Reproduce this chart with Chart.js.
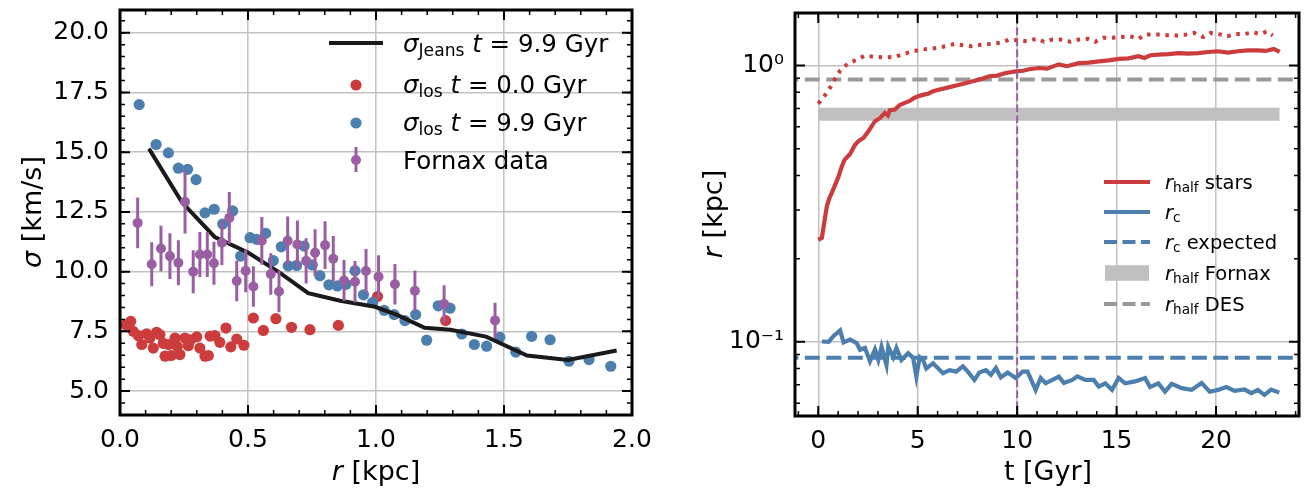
<!DOCTYPE html>
<html>
<head>
<meta charset="utf-8">
<script src="https://cdn.jsdelivr.net/npm/chart.js@4.4.1/dist/chart.umd.min.js"></script>
<style>
  html, body { margin: 0; padding: 0; background: #fff; }
  #wrap { position: relative; width: 1308px; height: 494px; }
  canvas { position: absolute; top: 0; }
  #left { left: 0; }
  #right { left: 660px; }
</style>
</head>
<body>
<div id="wrap">
  <canvas id="left" width="660" height="494"></canvas>
  <canvas id="right" width="648" height="494"></canvas>
</div>
<script>
// ---- left panel: velocity dispersion vs radius ----
const jeansR = [0.113, 0.242, 0.37, 0.5, 0.625, 0.735, 0.86, 0.996, 1.08, 1.19, 1.29, 1.43, 1.59, 1.75, 1.94];
const jeansSigma = [15.15, 12.9, 11.45, 10.8, 9.95, 9.1, 8.78, 8.53, 8.2, 7.65, 7.57, 7.28, 6.49, 6.3, 6.7];

const losR0 = [0.023, 0.042, 0.052, 0.072, 0.085, 0.104, 0.117, 0.13, 0.143, 0.156, 0.169, 0.176, 0.189, 0.2,
  0.215, 0.224, 0.234, 0.254, 0.267, 0.276, 0.3, 0.312, 0.332, 0.345, 0.352, 0.371, 0.39, 0.414, 0.433, 0.456,
  0.484, 0.521, 0.56, 0.609, 0.67, 0.742, 0.853, 1.006, 1.272];
const losSigma0 = [7.78, 7.92, 7.5, 7.32, 6.95, 7.4, 7.22, 6.8, 7.46, 7.36, 7.0, 6.46, 6.95, 6.49,
  7.22, 6.87, 6.53, 7.22, 6.9, 7.15, 7.27, 6.8, 6.46, 6.49, 7.3, 7.32, 7.04, 7.64, 6.85, 7.18,
  6.92, 8.06, 7.54, 8.03, 7.67, 7.57, 7.75, 8.96, 7.95];

const losR99 = [0.075, 0.141, 0.189, 0.228, 0.264, 0.297, 0.332, 0.368, 0.401, 0.44, 0.471, 0.508, 0.534, 0.569,
  0.599, 0.63, 0.657, 0.69, 0.719, 0.751, 0.781, 0.816, 0.849, 0.883, 0.918, 0.951, 0.987, 1.032, 1.071, 1.113,
  1.155, 1.198, 1.243, 1.289, 1.335, 1.384, 1.432, 1.484, 1.546, 1.608, 1.68, 1.754, 1.832, 1.917];
const losSigma99 = [16.99, 15.32, 14.97, 14.33, 14.28, 13.85, 12.46, 12.61, 11.99, 12.54, 10.65, 11.42, 11.35, 11.6,
  10.46, 11.04, 10.24, 10.26, 11.07, 10.28, 9.83, 9.45, 9.4, 9.47, 10.04, 9.03, 8.71, 8.38, 8.2, 7.95,
  8.2, 7.13, 8.57, 8.47, 7.39, 6.95, 6.88, 7.25, 6.63, 7.29, 7.15, 6.25, 6.32, 6.04];

const fornaxR = [0.069, 0.124, 0.16, 0.195, 0.228, 0.254, 0.286, 0.312, 0.341, 0.367, 0.398, 0.427, 0.456, 0.491,
  0.521, 0.554, 0.589, 0.621, 0.655, 0.693, 0.727, 0.762, 0.801, 0.833, 0.875, 0.918, 0.961, 1.01, 1.074, 1.152,
  1.266, 1.465];
const fornaxSigma = [12.04, 10.31, 10.97, 10.65, 10.37, 12.92, 10.0, 10.72, 10.72, 10.35, 11.21, 12.25, 9.61, 10.04,
  9.38, 11.29, 9.9, 9.17, 11.29, 11.14, 10.45, 10.79, 11.11, 10.54, 9.63, 9.58, 10.03, 9.79, 9.47, 9.2,
  8.65, 7.96];
const fornaxErr = [1.06, 0.92, 0.95, 0.96, 0.94, 1.32, 0.9, 0.94, 0.94, 0.9, 0.93, 1.08, 0.85, 0.9,
  0.85, 1.0, 0.87, 0.87, 1.02, 1.0, 0.95, 0.98, 1.0, 0.95, 0.86, 0.87, 0.92, 0.9, 0.85, 0.85,
  0.78, 0.74];

const leftXTicks = [0, 0.5, 1.0, 1.5, 2.0];
const leftYTicks = [5, 7.5, 10, 12.5, 15, 17.5, 20];

// ---- right panel: radii vs time ----
const tStars = [0.0, 0.18, 0.3, 0.43, 0.55, 0.68, 0.85, 1.02, 1.15, 1.32, 1.6, 1.85, 2.05, 2.27, 2.52, 2.85, 3.1,
  3.35, 3.5, 3.6, 3.85, 4.1, 4.35, 4.6, 4.8, 5.02, 5.3, 5.5, 5.77, 6.1, 6.5, 6.93, 7.3, 7.77, 8.2, 8.6, 9.0,
  9.43, 9.93, 10.3, 10.6, 11.1, 11.5, 12.1, 12.5, 13.1, 13.6, 14.1, 14.6, 15.1, 15.6, 16.1, 16.4, 16.7, 17.1,
  17.6, 18.1, 18.6, 19.1, 19.6, 20.1, 20.6, 21.1, 21.6, 22.1, 22.5, 22.9, 23.2];
const rHalfStars = [0.234, 0.238, 0.27, 0.309, 0.33, 0.346, 0.37, 0.397, 0.425, 0.456, 0.479, 0.517, 0.535, 0.547,
  0.578, 0.629, 0.645, 0.674, 0.66, 0.69, 0.693, 0.72, 0.733, 0.745, 0.762, 0.774, 0.785, 0.79, 0.807, 0.819,
  0.832, 0.847, 0.86, 0.878, 0.895, 0.915, 0.92, 0.94, 0.953, 0.958, 0.97, 0.98, 0.975, 1.01, 0.995, 1.02,
  1.025, 1.036, 1.045, 1.057, 1.062, 1.081, 1.065, 1.09, 1.096, 1.1, 1.11, 1.105, 1.11, 1.12, 1.127, 1.115,
  1.127, 1.135, 1.136, 1.13, 1.149, 1.12];

const tStars3d = [0.0, 0.32, 0.6, 0.85, 1.1, 1.47, 1.93, 2.35, 2.85, 3.35, 3.85, 4.27, 4.77, 5.18, 5.6, 6.0, 6.4,
  6.85, 7.27, 7.68, 8.18, 8.68, 9.18, 9.6, 10.1, 10.5, 11.0, 11.35, 11.77, 12.18, 12.68, 13.1, 13.57, 13.93,
  14.35, 14.8, 15.27, 15.68, 16.1, 16.43, 16.77, 17.2, 17.65, 18.1, 18.5, 18.9, 19.35, 19.73, 20.15, 20.57,
  21.0, 21.43, 21.85, 22.23, 22.57, 22.85];
const rHalfStars3d = [0.728, 0.778, 0.834, 0.897, 0.959, 1.014, 1.05, 1.087, 1.075, 1.07, 1.075, 1.1, 1.127, 1.143,
  1.149, 1.16, 1.175, 1.198, 1.185, 1.175, 1.19, 1.198, 1.21, 1.242, 1.235, 1.225, 1.253, 1.22, 1.242, 1.242,
  1.22, 1.242, 1.25, 1.22, 1.26, 1.26, 1.27, 1.277, 1.25, 1.295, 1.295, 1.295, 1.285, 1.285, 1.295, 1.313,
  1.27, 1.313, 1.3, 1.277, 1.3, 1.3, 1.32, 1.3, 1.33, 1.285];

const tCore = [0.18, 0.52, 0.77, 1.1, 1.27, 1.6, 1.93, 2.1, 2.35, 2.6, 2.85, 3.02, 3.18, 3.43, 3.52, 3.77, 3.93,
  4.18, 4.52, 4.77, 4.93, 5.1, 5.27, 5.43, 5.77, 6.27, 6.6, 6.93, 7.27, 7.52, 7.85, 8.1, 8.43, 8.68, 8.93,
  9.18, 9.52, 9.93, 10.27, 10.52, 10.93, 11.18, 11.43, 11.77, 12.1, 12.35, 12.77, 13.02, 13.43, 13.85, 14.1,
  14.43, 14.77, 15.1, 15.43, 15.93, 16.43, 16.68, 17.1, 17.43, 17.77, 18.27, 18.77, 19.27, 19.68, 20.1, 20.52,
  20.93, 21.43, 21.77, 22.1, 22.43, 22.77, 23.18];
const rCore = [0.1003, 0.1, 0.105, 0.11, 0.0995, 0.102, 0.099, 0.0936, 0.095, 0.085, 0.094, 0.086, 0.096, 0.0825,
  0.096, 0.088, 0.095, 0.086, 0.091, 0.0875, 0.0749, 0.088, 0.086, 0.08, 0.0837, 0.077, 0.079, 0.078, 0.0815,
  0.078, 0.0728, 0.0775, 0.079, 0.076, 0.0804, 0.0743, 0.0774, 0.074, 0.078, 0.078, 0.067, 0.074, 0.0708,
  0.0728, 0.0748, 0.071, 0.0728, 0.075, 0.0728, 0.0728, 0.0689, 0.0708, 0.067, 0.074, 0.0708, 0.0719, 0.074,
  0.0686, 0.0708, 0.066, 0.0705, 0.068, 0.067, 0.071, 0.066, 0.067, 0.0686, 0.0665, 0.0672, 0.0652, 0.067,
  0.0643, 0.0672, 0.0655];

const rCoreExpected = 0.0875;
const rHalfFornax = [0.632, 0.703];
const fornaxBandT = [0, 23.2];
const rHalfDES = 0.89;
const tSnapshot = 10;

const rightXTicks = [0, 5, 10, 15, 20];
const rightYTicks = [0.1, 1];
const rightYLabels = ['10\u207B\u00B9', '10\u2070'];

const RED = '#cd3c3c';
const BLUE = '#4c7fae';
const PURPLE = '#9a5ea3';
const GRID = '#c2c2c2';
const FONT = '"DejaVu Sans", sans-serif';

function rich(ctx, x, y, parts, size, align) {
  const fontFor = p => (p.it ? 'italic ' : '') + (p.sub ? size * 0.7 : size) + 'px ' + FONT;
  let w = 0;
  parts.forEach(p => { ctx.font = fontFor(p); w += ctx.measureText(p.t).width; });
  let cx = align === 'center' ? x - w / 2 : x;
  ctx.textAlign = 'left';
  ctx.textBaseline = 'alphabetic';
  parts.forEach(p => {
    ctx.font = fontFor(p);
    ctx.fillText(p.t, cx, y + (p.sub ? size * 0.15 : 0));
    cx += ctx.measureText(p.t).width;
  });
}

function range(a, b, step) {
  const out = [];
  for (let v = a; v <= b + 1e-9; v += step) out.push(Math.round(v * 1000) / 1000);
  return out;
}

// inward ticks on all four sides plus the black frame
function frameTicks(xMajor, xMinor, yMajor, yMinor) {
  return {
    id: 'frameTicks',
    afterDatasetsDraw(chart) {
      const { ctx, chartArea: a } = chart;
      const xs = chart.scales.x, ys = chart.scales.y;
      ctx.save();
      ctx.strokeStyle = '#000';
      const marks = (vals, len, lw, isX) => {
        ctx.lineWidth = lw;
        ctx.beginPath();
        vals.forEach(v => {
          if (isX) {
            const p = xs.getPixelForValue(v);
            if (p < a.left + 1 || p > a.right - 1) return;
            ctx.moveTo(p, a.bottom); ctx.lineTo(p, a.bottom - len);
            ctx.moveTo(p, a.top); ctx.lineTo(p, a.top + len);
          } else {
            const p = ys.getPixelForValue(v);
            if (p < a.top + 1 || p > a.bottom - 1) return;
            ctx.moveTo(a.left, p); ctx.lineTo(a.left + len, p);
            ctx.moveTo(a.right, p); ctx.lineTo(a.right - len, p);
          }
        });
        ctx.stroke();
      };
      marks(xMinor, 5, 1.5, true);
      marks(yMinor, 5, 1.5, false);
      marks(xMajor, 10, 2, true);
      marks(yMajor, 10, 2, false);
      ctx.lineWidth = 3;
      ctx.strokeRect(a.left, a.top, a.right - a.left, a.bottom - a.top);
      ctx.restore();
    }
  };
}

function pts(xs, ys) {
  return xs.map((x, i) => ({ x: x, y: ys[i] }));
}

// fixed axis box sizes, no automatic label overhang padding
function fixSize(w, h) {
  return s => {
    if (w !== null) s.width = w;
    if (h !== null) s.height = h;
    s.paddingTop = 0; s.paddingBottom = 0; s.paddingLeft = 0; s.paddingRight = 0;
  };
}

function axisOpts(extra) {
  return Object.assign({
    type: 'linear',
    grid: { color: GRID, lineWidth: 1.5, drawTicks: false },
    border: { display: false },
    ticks: { font: { family: FONT, size: 25 }, color: '#000', padding: 10, maxRotation: 0, autoSkip: false }
  }, extra);
}

// ---------------- left chart ----------------
const errorBars = {
  id: 'errorBars',
  beforeDatasetDraw(chart, args) {
    if (chart.data.datasets[args.index].label !== 'Fornax data') return;
    const { ctx } = chart;
    const xs = chart.scales.x, ys = chart.scales.y;
    ctx.save();
    ctx.strokeStyle = PURPLE;
    ctx.lineWidth = 3;
    ctx.beginPath();
    fornaxR.forEach((r, i) => {
      const px = xs.getPixelForValue(r);
      ctx.moveTo(px, ys.getPixelForValue(fornaxSigma[i] - fornaxErr[i]));
      ctx.lineTo(px, ys.getPixelForValue(fornaxSigma[i] + fornaxErr[i]));
    });
    ctx.stroke();
    ctx.restore();
  }
};

const leftDecor = {
  id: 'leftDecor',
  afterDraw(chart) {
    const ctx = chart.ctx;
    ctx.save();
    ctx.fillStyle = '#000';
    // axis titles
    ctx.save();
    ctx.translate(31, 212);
    ctx.rotate(-Math.PI / 2);
    rich(ctx, 0, 10, [{ t: '\u03C3', it: true }, { t: ' [km/s]' }], 27, 'center');
    ctx.restore();
    rich(ctx, 376, 480, [{ t: 'r', it: true }, { t: ' [kpc]' }], 27, 'center');

    // legend
    const lx = 403, fs = 24.5;
    ctx.strokeStyle = '#1a1a1a';
    ctx.lineWidth = 4;
    ctx.beginPath(); ctx.moveTo(329, 43); ctx.lineTo(383, 43); ctx.stroke();
    rich(ctx, lx, 52, [{ t: '\u03C3', it: true }, { t: 'Jeans', sub: true }, { t: ' ' }, { t: 't', it: true }, { t: ' = 9.9 Gyr' }], fs);

    ctx.fillStyle = RED;
    ctx.beginPath(); ctx.arc(356, 85, 5.6, 0, Math.PI * 2); ctx.fill();
    ctx.fillStyle = '#000';
    rich(ctx, lx, 93, [{ t: '\u03C3', it: true }, { t: 'los', sub: true }, { t: ' ' }, { t: 't', it: true }, { t: ' = 0.0 Gyr' }], fs);

    ctx.fillStyle = BLUE;
    ctx.beginPath(); ctx.arc(356, 123, 5.6, 0, Math.PI * 2); ctx.fill();
    ctx.fillStyle = '#000';
    rich(ctx, lx, 131, [{ t: '\u03C3', it: true }, { t: 'los', sub: true }, { t: ' ' }, { t: 't', it: true }, { t: ' = 9.9 Gyr' }], fs);

    ctx.strokeStyle = PURPLE;
    ctx.lineWidth = 3;
    ctx.beginPath(); ctx.moveTo(356, 147); ctx.lineTo(356, 172); ctx.stroke();
    ctx.fillStyle = PURPLE;
    ctx.beginPath(); ctx.arc(356, 160, 5, 0, Math.PI * 2); ctx.fill();
    ctx.fillStyle = '#000';
    rich(ctx, lx, 169, [{ t: 'Fornax data' }], fs);
    ctx.restore();
  }
};

new Chart(document.getElementById('left'), {
  type: 'scatter',
  data: {
    datasets: [
      {
        label: 'Jeans',
        data: pts(jeansR, jeansSigma),
        showLine: true,
        borderColor: '#1a1a1a',
        borderWidth: 4,
        pointRadius: 0,
        order: 1
      },
      {
        label: 't0',
        data: pts(losR0, losSigma0),
        backgroundColor: RED,
        borderWidth: 0,
        pointRadius: 5.6,
        order: 3
      },
      {
        label: 't99',
        data: pts(losR99, losSigma99),
        backgroundColor: BLUE,
        borderWidth: 0,
        pointRadius: 5.6,
        order: 2
      },
      {
        label: 'Fornax data',
        data: pts(fornaxR, fornaxSigma),
        backgroundColor: PURPLE,
        borderWidth: 0,
        pointRadius: 5,
        order: 0
      }
    ]
  },
  options: {
    responsive: false,
    animation: false,
    layout: { padding: { left: 0, right: 28, top: 10, bottom: 0 } },
    plugins: { legend: { display: false }, tooltip: { enabled: false } },
    scales: {
      x: axisOpts({
        min: 0, max: 2.0,
        afterBuildTicks: s => { s.ticks = leftXTicks.map(v => ({ value: v })); },
        afterFit: fixSize(null, 79),
        ticks: { font: { family: FONT, size: 25 }, color: '#000', padding: 10, maxRotation: 0, autoSkip: false,
          callback: v => v.toFixed(1) }
      }),
      y: axisOpts({
        min: 4.0, max: 20.95,
        afterBuildTicks: s => { s.ticks = leftYTicks.map(v => ({ value: v })); },
        afterFit: fixSize(120, null),
        ticks: { font: { family: FONT, size: 25 }, color: '#000', padding: 11, autoSkip: false,
          callback: v => v.toFixed(1) }
      })
    }
  },
  plugins: [errorBars, frameTicks(leftXTicks, range(0, 2, 0.1), leftYTicks, range(4, 21, 0.5)), leftDecor]
});

// ---------------- right chart ----------------
const rightDecor = {
  id: 'rightDecor',
  afterDraw(chart) {
    const ctx = chart.ctx;
    ctx.save();
    ctx.fillStyle = '#000';
    ctx.save();
    ctx.translate(52, 214);
    ctx.rotate(-Math.PI / 2);
    rich(ctx, 0, 10, [{ t: 'r', it: true }, { t: ' [kpc]' }], 27, 'center');
    ctx.restore();
    rich(ctx, 388, 480, [{ t: 't [Gyr]' }], 27, 'center');

    const x0 = 444, x1 = 490, tx = 505, fs = 19.5;
    const rows = [
      { y: 182, kind: 'line', color: RED, dash: [], parts: [{ t: 'r', it: true }, { t: 'half', sub: true }, { t: ' stars' }] },
      { y: 212, kind: 'line', color: BLUE, dash: [], parts: [{ t: 'r', it: true }, { t: 'c', sub: true }] },
      { y: 242, kind: 'line', color: BLUE, dash: [13, 5.5], parts: [{ t: 'r', it: true }, { t: 'c', sub: true }, { t: ' expected' }] },
      { y: 273, kind: 'box', color: '#c0c0c0', parts: [{ t: 'r', it: true }, { t: 'half', sub: true }, { t: ' Fornax' }] },
      { y: 304, kind: 'line', color: '#999999', dash: [13, 5.5], parts: [{ t: 'r', it: true }, { t: 'half', sub: true }, { t: ' DES' }] }
    ];
    rows.forEach(r => {
      if (r.kind === 'box') {
        ctx.fillStyle = r.color;
        ctx.fillRect(x0 + 1, r.y - 7.8, x1 - x0 - 2, 15.6);
      } else {
        ctx.strokeStyle = r.color;
        ctx.lineWidth = 4;
        ctx.setLineDash(r.dash);
        ctx.beginPath(); ctx.moveTo(x0, r.y); ctx.lineTo(x1, r.y); ctx.stroke();
        ctx.setLineDash([]);
      }
      ctx.fillStyle = '#000';
      rich(ctx, tx, r.y + 7, r.parts, fs);
    });
    ctx.restore();
  }
};

new Chart(document.getElementById('right'), {
  type: 'scatter',
  data: {
    datasets: [
      {
        label: 'fornax lo',
        data: pts(fornaxBandT, [rHalfFornax[0], rHalfFornax[0]]),
        showLine: true, borderWidth: 0, pointRadius: 0, fill: false, order: 9
      },
      {
        label: 'fornax hi',
        data: pts(fornaxBandT, [rHalfFornax[1], rHalfFornax[1]]),
        showLine: true, borderWidth: 0, pointRadius: 0, fill: '-1', backgroundColor: '#c0c0c0', order: 8
      },
      {
        label: 'DES',
        data: pts([-5, 30], [rHalfDES, rHalfDES]),
        showLine: true, borderColor: '#999999', borderWidth: 4, borderDash: [15, 6.5], pointRadius: 0, order: 7
      },
      {
        label: 'rc expected',
        data: pts([-5, 30], [rCoreExpected, rCoreExpected]),
        showLine: true, borderColor: BLUE, borderWidth: 4, borderDash: [15, 6.5], pointRadius: 0, order: 6
      },
      {
        label: 'rhalf 3d',
        data: pts(tStars3d, rHalfStars3d),
        showLine: true, borderColor: RED, borderWidth: 4, borderDash: [3.5, 5.7], pointRadius: 0, order: 5
      },
      {
        label: 'rhalf stars',
        data: pts(tStars, rHalfStars),
        showLine: true, borderColor: RED, borderWidth: 4.2, pointRadius: 0, order: 4
      },
      {
        label: 'rc',
        data: pts(tCore, rCore),
        showLine: true, borderColor: BLUE, borderWidth: 4.2, pointRadius: 0, order: 3
      },
      {
        label: 'snapshot',
        data: pts([tSnapshot, tSnapshot], [0.01, 10]),
        showLine: true, borderColor: PURPLE, borderWidth: 2, borderDash: [7.7, 3.3], pointRadius: 0, order: 1
      }
    ]
  },
  options: {
    responsive: false,
    animation: false,
    layout: { padding: { left: 0, right: 9, top: 13, bottom: 0 } },
    plugins: { legend: { display: false }, tooltip: { enabled: false }, filler: { propagate: false } },
    scales: {
      x: axisOpts({
        min: -1.17, max: 24.17,
        afterBuildTicks: s => { s.ticks = rightXTicks.map(v => ({ value: v })); },
        afterFit: fixSize(null, 78)
      }),
      y: axisOpts({
        type: 'logarithmic',
        min: 0.0539, max: 1.55,
        afterBuildTicks: s => { s.ticks = rightYTicks.map(v => ({ value: v })); },
        afterFit: fixSize(135, null),
        ticks: { font: { family: FONT, size: 25 }, color: '#000', padding: 11, autoSkip: false,
          callback: (v, i) => rightYLabels[i] }
      })
    }
  },
  plugins: [
    frameTicks(rightXTicks, range(-1, 24, 1), rightYTicks,
      [0.06, 0.07, 0.08, 0.09, 0.2, 0.3, 0.4, 0.5, 0.6, 0.7, 0.8, 0.9]),
    rightDecor
  ]
});
</script>
</body>
</html>
